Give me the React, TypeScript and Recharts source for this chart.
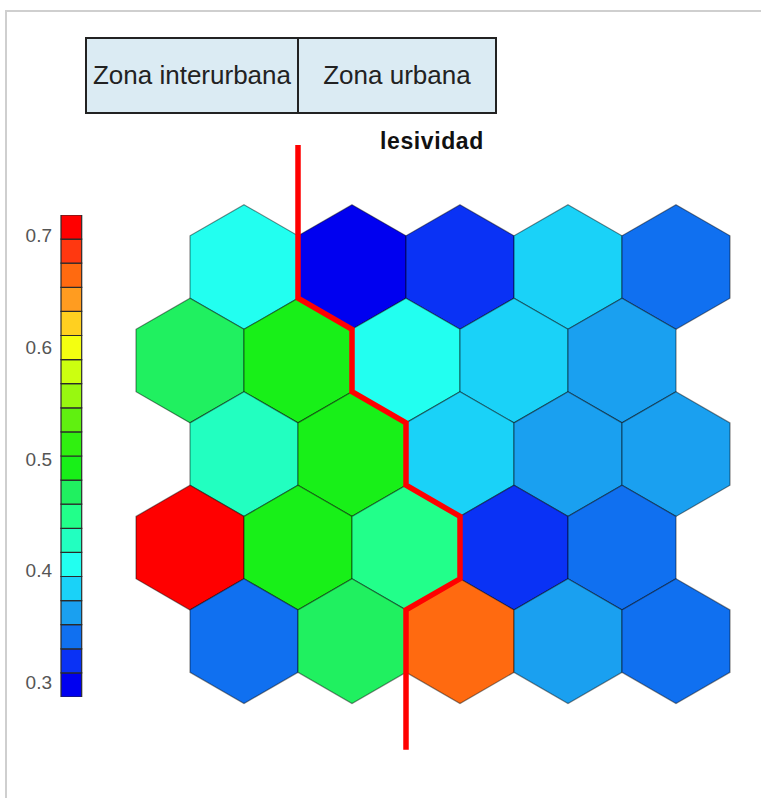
import { Bar, BarChart, Scatter, ScatterChart, XAxis, YAxis } from "recharts";

// SOM grid for "lesividad": 5 rows x 5 cols, row 0 at top
const lesividadRows = [
  [0.41, 0.3, 0.32, 0.385, 0.34],
  [0.47, 0.495, 0.405, 0.385, 0.36],
  [0.43, 0.495, 0.385, 0.36, 0.36],
  [0.71, 0.495, 0.45, 0.32, 0.34],
  [0.34, 0.475, 0.665, 0.36, 0.34],
];

// colour scale, low to high
const scaleColors = [
  "#0000f0", "#0a32f5", "#1070f0", "#1aa0f0", "#1ad2f8",
  "#22fff0", "#22ffc0", "#22ff8a", "#20f060", "#18f018",
  "#30f010", "#60f010", "#98f810", "#ccff10", "#f4ff10",
  "#ffd020", "#ff9c20", "#ff6a10", "#ff3810", "#ff0000",
];
const scaleMin = 0.2865;
const scaleStep = 0.0216;
const scaleTicks = [0.3, 0.4, 0.5, 0.6, 0.7];

const zoneLabels = ["Zona interurbana", "Zona urbana"];

// hex geometry in grid units (hex width = 1)
const R = 1 / Math.sqrt(3);
const ROW = 1.5 * R;

// border between the two zones, following hex edges
const zoneBorder = [
  { x: 1, y: -1.13 },
  { x: 1, y: R / 2 },
  { x: 1.5, y: R },
  { x: 1.5, y: ROW + R / 2 },
  { x: 2, y: ROW + R },
  { x: 2, y: 2 * ROW + R / 2 },
  { x: 2.5, y: 2 * ROW + R },
  { x: 2.5, y: 3 * ROW + R / 2 },
  { x: 2, y: 3 * ROW + R },
  { x: 2, y: 4.47 },
];

const W = 761;
const H = 798;
const PX = 108; // pixels per grid unit
const xDomain: [number, number] = [-190 / PX, (W - 190) / PX];
const yDomain: [number, number] = [-267 / PX, (H - 267) / PX];

function colorFor(v: number) {
  const i = Math.floor((v - scaleMin) / scaleStep);
  return scaleColors[Math.max(0, Math.min(scaleColors.length - 1, i))];
}

const cells = lesividadRows.flatMap((row, r) =>
  row.map((value, c) => ({ x: c + (r % 2 === 0 ? 0.5 : 0), y: r * ROW, value }))
);

function Hexagon(props: any) {
  const { cx, cy, payload } = props;
  const rp = R * PX;
  const pts = [0, 1, 2, 3, 4, 5]
    .map((k) => {
      const a = (Math.PI / 3) * k - Math.PI / 2;
      return `${cx + rp * Math.cos(a)},${cy + rp * Math.sin(a)}`;
    })
    .join(" ");
  return <polygon points={pts} fill={colorFor(payload.value)} stroke="rgba(0,0,0,0.45)" strokeWidth={1.2} />;
}

const colorbarRow = [
  scaleColors.reduce<Record<string, number>>(
    (row, _c, i) => ({ ...row, [`s${i}`]: scaleStep }),
    { name: 0, base: scaleMin }
  ),
];

function Colorbar() {
  return (
    <BarChart width={83} height={482} data={colorbarRow} margin={{ top: 0, right: 0, bottom: 0, left: 0 }} barCategoryGap={0}>
      <XAxis dataKey="name" hide />
      <YAxis
        type="number"
        width={60}
        domain={[scaleMin, scaleMin + scaleStep * scaleColors.length]}
        allowDataOverflow
        ticks={scaleTicks}
        tickFormatter={(v) => Number(v).toFixed(1)}
        tickLine={false}
        axisLine={false}
        tick={{ fill: "#555", fontSize: 19, fontFamily: "Liberation Sans, Arial, sans-serif" }}
      />
      <Bar dataKey="base" stackId="cb" fill="none" barSize={23} isAnimationActive={false} />
      {scaleColors.map((c, i) => (
        <Bar key={c + i} dataKey={`s${i}`} stackId="cb" fill={c} stroke="#2a2a2a" strokeWidth={1.2} barSize={23} isAnimationActive={false} />
      ))}
    </BarChart>
  );
}

export default function App() {
  const font = "Liberation Sans, Arial, sans-serif";
  return (
    <div style={{ position: "absolute", left: 0, top: 0, width: W, height: H, background: "#fff", fontFamily: font }}>
      <div style={{ position: "absolute", left: 5, top: 10, right: 0, bottom: 0, borderTop: "2px solid #cfcfcf", borderLeft: "2px solid #cfcfcf" }} />
      <div style={{ position: "absolute", left: 85, top: 37, width: 412, height: 77, display: "flex", border: "2px solid #222", boxSizing: "border-box", background: "#dbebf3" }}>
        {zoneLabels.map((z, i) => (
          <div
            key={z}
            style={{
              width: i === 0 ? 212 : 198,
              display: "flex",
              alignItems: "center",
              justifyContent: "center",
              fontSize: 26,
              color: "#222",
              borderLeft: i > 0 ? "2px solid #222" : undefined,
              whiteSpace: "nowrap",
            }}
          >
            {z}
          </div>
        ))}
      </div>
      <div style={{ position: "absolute", left: 380, top: 128, fontSize: 23, fontWeight: "bold", letterSpacing: 0.6, color: "#111" }}>lesividad</div>
      <div style={{ position: "absolute", left: 0, top: 215 }}>
        <Colorbar />
      </div>
      <div style={{ position: "absolute", left: 0, top: 0 }}>
        <ScatterChart width={W} height={H} margin={{ top: 0, right: 0, bottom: 0, left: 0 }}>
          <XAxis type="number" dataKey="x" domain={xDomain} allowDataOverflow hide />
          <YAxis type="number" dataKey="y" domain={yDomain} allowDataOverflow reversed hide />
          <Scatter data={cells} shape={Hexagon} isAnimationActive={false} />
          <Scatter data={zoneBorder} line={{ stroke: "#ff0000", strokeWidth: 5.5 }} shape={() => <g />} isAnimationActive={false} />
        </ScatterChart>
      </div>
    </div>
  );
}
